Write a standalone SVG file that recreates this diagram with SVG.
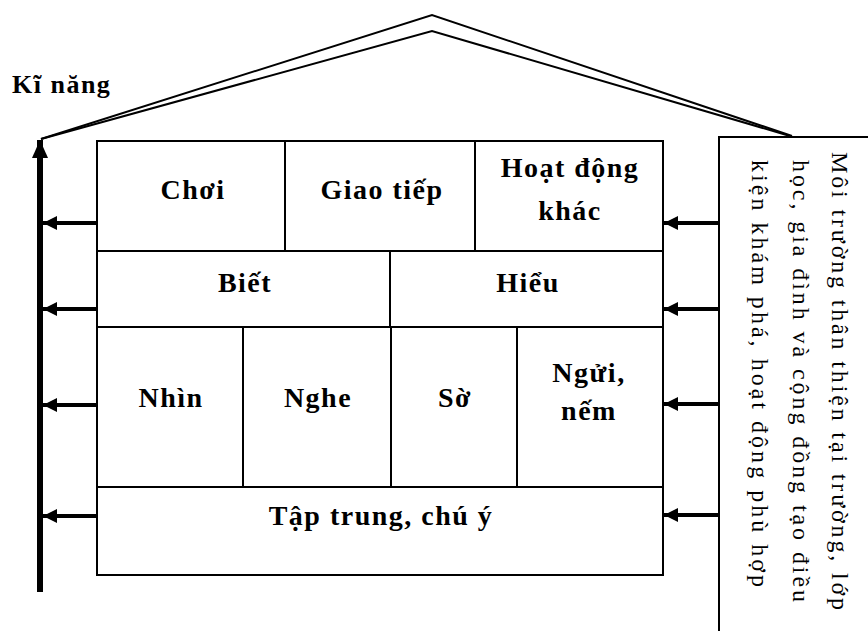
<svg xmlns="http://www.w3.org/2000/svg" width="868" height="631" viewBox="0 0 868 631">
<defs>
<style>
.box{fill:#fff;stroke:#000;stroke-width:2}
.lbl{font-family:"Liberation Serif","Times New Roman",serif;font-weight:bold;font-size:28px;letter-spacing:1.5px;fill:#000;text-anchor:middle}
.side{font-family:"Liberation Serif","Times New Roman",serif;font-size:24px;fill:#000}
.roof{fill:none;stroke:#000;stroke-width:2;stroke-linejoin:miter}
.shaft{stroke:#000;stroke-width:4;fill:none}
</style>
<marker id="ah" viewBox="0 0 14 14" refX="14" refY="7" markerUnits="userSpaceOnUse" markerWidth="14" markerHeight="14" orient="auto">
<path d="M0,0 L14,7 L0,14 Z" fill="#000"/>
</marker>
<marker id="ahBig" viewBox="0 0 18 16" refX="18" refY="8" markerUnits="userSpaceOnUse" markerWidth="18" markerHeight="16" orient="auto">
<path d="M0,0 L18,8 L0,16 Z" fill="#000"/>
</marker>
</defs>
<rect width="868" height="631" fill="#fff"/>

<g id="roof">
<polyline class="roof" points="41,139 432,15 792,136"/>
<polyline class="roof" points="41,139 432,31 790,136"/>
</g>

<g id="ki-nang">
<text x="12" y="93" class="lbl" style="text-anchor:start;font-size:26px">Kĩ năng</text>
</g>

<g id="connectors">
<line x1="40" y1="592" x2="40" y2="140" stroke="#000" stroke-width="6" marker-end="url(#ahBig)"/>
<line class="shaft" x1="97" y1="223" x2="43" y2="223" marker-end="url(#ah)"/>
<line class="shaft" x1="97" y1="309" x2="43" y2="309" marker-end="url(#ah)"/>
<line class="shaft" x1="97" y1="405" x2="43" y2="405" marker-end="url(#ah)"/>
<line class="shaft" x1="97" y1="516" x2="43" y2="516" marker-end="url(#ah)"/>
<line class="shaft" x1="719" y1="223" x2="664" y2="223" marker-end="url(#ah)"/>
<line class="shaft" x1="719" y1="309" x2="664" y2="309" marker-end="url(#ah)"/>
<line class="shaft" x1="719" y1="404" x2="664" y2="404" marker-end="url(#ah)"/>
<line class="shaft" x1="719" y1="515" x2="664" y2="515" marker-end="url(#ah)"/>
</g>

<g id="choi"><rect class="box" x="97" y="141" width="188" height="110"/><text class="lbl" x="193" y="199">Chơi</text></g>
<g id="giao-tiep"><rect class="box" x="285" y="141" width="190" height="110"/><text class="lbl" x="382" y="199">Giao tiếp</text></g>
<g id="hoat-dong-khac"><rect class="box" x="475" y="141" width="188" height="110"/><text class="lbl" x="570" y="177">Hoạt động</text><text class="lbl" x="570" y="220">khác</text></g>

<g id="biet"><rect class="box" x="97" y="251" width="293" height="76"/><text class="lbl" x="245" y="292">Biết</text></g>
<g id="hieu"><rect class="box" x="390" y="251" width="273" height="76"/><text class="lbl" x="528" y="292">Hiểu</text></g>

<g id="nhin"><rect class="box" x="97" y="327" width="146" height="160"/><text class="lbl" x="171" y="407">Nhìn</text></g>
<g id="nghe"><rect class="box" x="243" y="327" width="148" height="160"/><text class="lbl" x="318" y="407">Nghe</text></g>
<g id="so"><rect class="box" x="391" y="327" width="126" height="160"/><text class="lbl" x="455" y="407">Sờ</text></g>
<g id="ngui-nem"><rect class="box" x="517" y="327" width="146" height="160"/><text class="lbl" x="589" y="382">Ngửi,</text><text class="lbl" x="589" y="420">nếm</text></g>

<g id="tap-trung"><rect class="box" x="97" y="487" width="566" height="88"/><text class="lbl" x="381" y="525">Tập trung, chú ý</text></g>

<g id="moi-truong">
<rect class="box" x="719" y="137" width="160" height="510"/>
<text class="side" transform="translate(832,152) rotate(90)" textLength="458" lengthAdjust="spacing">Môi trường thân thiện tại trường, lớp</text>
<text class="side" transform="translate(793,160) rotate(90)" textLength="442" lengthAdjust="spacing">học, gia đình và cộng đồng tạo điều</text>
<text class="side" transform="translate(752,160) rotate(90)" textLength="427" lengthAdjust="spacing">kiện khám phá, hoạt động phù hợp</text>
</g>
</svg>
